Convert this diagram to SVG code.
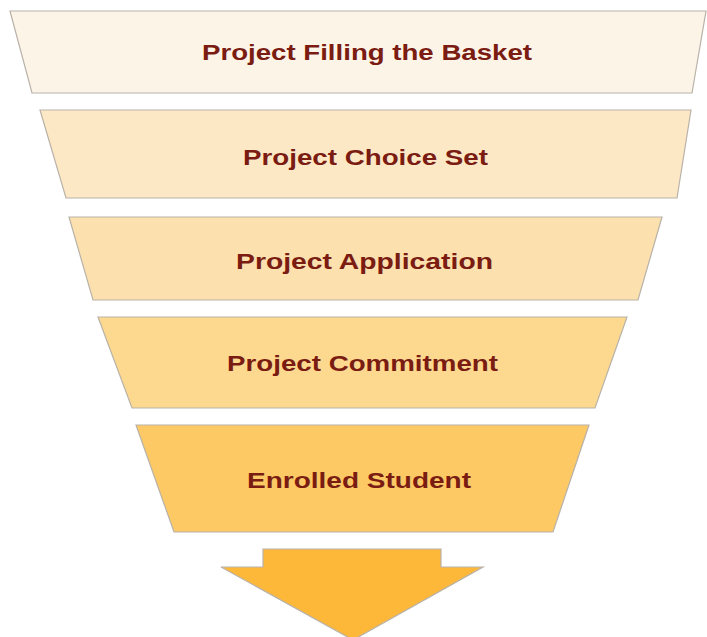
<svg xmlns="http://www.w3.org/2000/svg" width="707" height="637" viewBox="0 0 707 637">
<style>
.st{stroke:#b9b2a8;stroke-width:1.2}
.lb{font-family:"Liberation Sans",Arial,sans-serif;font-weight:bold;font-size:22px;fill:#7a1c12;text-anchor:middle}
</style>
<rect width="707" height="637" fill="#ffffff"/>
<g id="n1"><polygon class="st" fill="#fdf4e8" points="10,11 706,11 692,93 32,93"/><text class="lb" x="367" y="60" textLength="330" lengthAdjust="spacingAndGlyphs">Project Filling the Basket</text></g>
<g id="n2"><polygon class="st" fill="#fde8c6" points="40,110 691,110 677,198 66,198"/><text class="lb" x="365.5" y="165" textLength="245" lengthAdjust="spacingAndGlyphs">Project Choice Set</text></g>
<g id="n3"><polygon class="st" fill="#fce0ad" points="69,217 662,217 638,300 93,300"/><text class="lb" x="364.5" y="269" textLength="257" lengthAdjust="spacingAndGlyphs">Project Application</text></g>
<g id="n4"><polygon class="st" fill="#fdd98f" points="98,317 627,317 595,408 132,408"/><text class="lb" x="362.5" y="371" textLength="271" lengthAdjust="spacingAndGlyphs">Project Commitment</text></g>
<g id="n5"><polygon class="st" fill="#fdc965" points="136,425 589,425 553,532 174,532"/><text class="lb" x="359" y="488" textLength="224" lengthAdjust="spacingAndGlyphs">Enrolled Student</text></g>
<g id="connectors"><polygon class="st" fill="#fdb83a" points="263,549 441,549 441,567 483,567 353,640 221,567 263,567"/></g>
</svg>
